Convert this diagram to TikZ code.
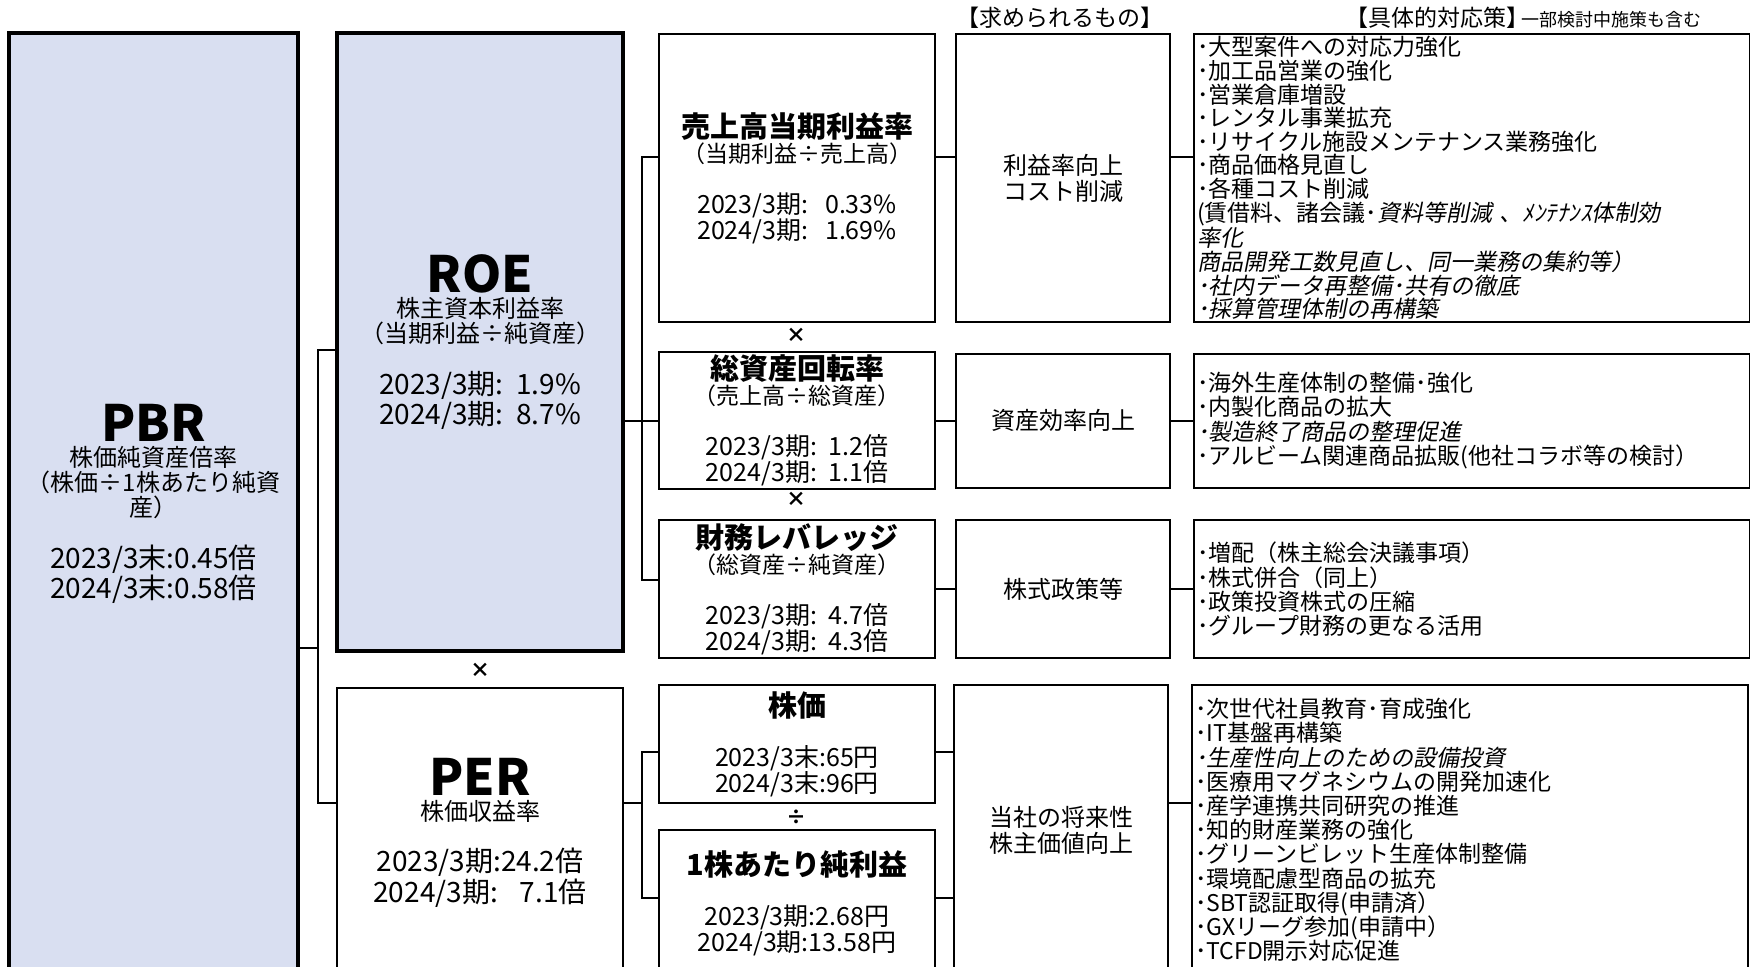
\documentclass[tikz,border=0pt]{standalone}
\usepackage{fontspec}
\setmainfont{Noto Sans CJK JP}
\newfontfamily\jpslant{Noto Sans CJK JP}[FakeSlant=0.2]
\usetikzlibrary{positioning}
\setlength{\parindent}{0pt}
\definecolor{kpifill}{RGB}{217,223,241}
\tikzset{cell/.style = {rectangle, draw=black, line width=1pt, inner sep=1.5pt, align=center, font=\fontsize{11.5}{13}\selectfont}}
\tikzset{kpi/.style = {cell, minimum width=143pt, font=\fontsize{12}{12.5}\selectfont}}
\tikzset{kpimain/.style = {kpi, line width=1.6pt, fill=kpifill}}
\tikzset{ratio/.style = {cell, minimum width=138pt}}
\tikzset{need/.style = {cell, minimum width=107pt, font=\fontsize{12}{13}\selectfont}}
\tikzset{action/.style = {cell, inner ysep=0pt, text width=275pt, align=left, font=\fontsize{11.5}{12.1}\selectfont}}
\tikzset{link/.style = {line width=1pt}}
\tikzset{op/.style = {inner sep=0pt, font=\bfseries\fontsize{10}{10}\selectfont}}
\tikzset{heading/.style = {inner sep=0pt, font=\fontsize{11.5}{12}\selectfont}}
\newcommand{\bigkpi}[1]{{\bfseries\fontsize{25}{25}\selectfont #1}}
\newcommand{\kpival}[1]{{\fontsize{14}{15}\selectfont #1}}
\newcommand{\ratiotitle}[1]{{\bfseries\fontsize{14.5}{15}\selectfont #1}}
\newcommand{\ratioval}[1]{{\fontsize{12.5}{13}\selectfont #1}}
\begin{document}
\begin{tikzpicture}[x=0.5pt, y=-0.5pt]
\path [use as bounding box, fill=white] (0,0) rectangle (1750,967);
\clip (0,0) rectangle (1750,967);

\node [kpimain, minimum width=144.5pt, minimum height=471pt] (pbr) at (153.5,504) {\bigkpi{PBR}\\
株価純資産倍率\\
（株価÷1株あたり純資\\
産）\\[12pt]
\kpival{2023/3末:0.45倍}\\
\kpival{2024/3末:0.58倍}};
\node [kpimain, minimum height=309pt] (roe) at (480,342) {\bigkpi{ROE}\\
株主資本利益率\\
（当期利益÷純資産）\\[12pt]
\kpival{2023/3期:~~1.9\%}\\
\kpival{2024/3期:~~8.7\%}};
\node [kpi, minimum height=145pt, below=17pt of roe] (per) {\bigkpi{PER}\\
株価収益率\\[12pt]
\kpival{2023/3期:24.2倍}\\
\kpival{2024/3期:\phantom{2}~7.1倍}};

\node [ratio, minimum height=144pt] (uri) at (797,178) {\ratiotitle{売上高当期利益率}\\[-0.5pt]
（当期利益÷売上高）\\[12.5pt]
\ratioval{2023/3期:~~~0.33\%}\\
\ratioval{2024/3期:~~~1.69\%}};
\node [ratio, minimum height=67pt, below=14pt of uri] (tat) {\ratiotitle{総資産回転率}\\[-0.5pt]
（売上高÷総資産）\\[12.5pt]
\ratioval{2023/3期:~~1.2倍}\\
\ratioval{2024/3期:~~1.1倍}};
\node [ratio, minimum height=69pt, below=14.5pt of tat] (zai) {\ratiotitle{財務レバレッジ}\\[-0.5pt]
（総資産÷純資産）\\[12.5pt]
\ratioval{2023/3期:~~4.7倍}\\
\ratioval{2024/3期:~~4.3倍}};
\node [ratio, minimum height=59pt] (kab) at (797,744) {\ratiotitle{株価}\\[12pt]
\ratioval{2023/3末:65円}\\
\ratioval{2024/3末:96円}};
\node [ratio, minimum height=73.5pt, below=12.5pt of kab] (eps) {\ratiotitle{1株あたり純利益}\\[12pt]
\ratioval{2023/3期:2.68円}\\
\ratioval{2024/3期:13.58円}};

\node [need, minimum height=144pt, right=9.5pt of uri] (need1) {利益率向上\\コスト削減};
\node [need, minimum height=67pt, right=9.5pt of tat] (need2) {資産効率向上};
\node [need, minimum height=69pt, right=9.5pt of zai] (need3) {株式政策等};
\node [need, minimum height=145pt] (need4) at (1061,830) {当社の将来性\\株主価値向上};

\node [action, minimum height=144pt, right=11pt of need1, font=\fontsize{11.5}{11.8}\selectfont] (act1) {･大型案件への対応力強化\\
･加工品営業の強化\\
･営業倉庫増設\\
･レンタル事業拡充\\
･リサイクル施設メンテナンス業務強化\\
･商品価格見直し\\
･各種コスト削減\\
(賃借料、諸会議･{\jpslant 資料等削減 、ﾒﾝﾃﾅﾝｽ体制効}\\
{\jpslant 率化}\\
{\jpslant 商品開発工数見直し、同一業務の集約等）}\\
{\jpslant ･社内データ再整備･共有の徹底}\\
{\jpslant ･採算管理体制の再構築}};
\node [action, minimum height=67pt, right=11pt of need2] (act2) {･海外生産体制の整備･強化\\
･内製化商品の拡大\\
{\jpslant ･製造終了商品の整理促進}\\
･アルビーム関連商品拡販(他社コラボ等の検討）};
\node [action, minimum height=69pt, right=11pt of need3] (act3) {･増配（株主総会決議事項）\\
･株式併合（同上）\\
･政策投資株式の圧縮\\
･グループ財務の更なる活用};
\node [action, minimum height=145pt, right=11pt of need4] (act4) {･次世代社員教育･育成強化\\
･IT基盤再構築\\
{\jpslant ･生産性向上のための設備投資}\\
･医療用マグネシウムの開発加速化\\
･産学連携共同研究の推進\\
･知的財産業務の強化\\
･グリーンビレット生産体制整備\\
･環境配慮型商品の拡充\\
･SBT認証取得(申請済）\\
･GXリーグ参加(申請中）\\
･TCFD開示対応促進};

\node [op] (times1) at (796,335) {×};
\node [op] (times2) at (796,499) {×};
\node [op] (times3) at (480,670) {×};
\node [op] (divide) at (796,817) {÷};

\node [heading] (needhead) at (1060,18) {【求められるもの】};
\node [heading, anchor=west] (acthead) at (1345,18) {【具体的対応策】\hspace{-4pt}{\fontsize{9}{9}\selectfont 一部検討中施策も含む}};

\coordinate (pbrout) at (318,648);
\coordinate (roein) at (318,350);
\coordinate (perin) at (318,803);
\coordinate (brA) at (642,157);
\coordinate (brB) at (642,580);
\coordinate (brC) at (642,752);
\coordinate (brD) at (642,898);
\coordinate (perout) at (642,803);

\draw [link] (pbr.east |- pbrout) -- (pbrout);
\draw [link] (roe.west |- roein) -- (roein) -- (perin) -- (per.west |- perin);
\draw [link] (uri.west |- brA) -- (brA) -- (brB) -- (zai.west |- brB);
\draw [link] (roe.east |- tat.west) -- (tat.west);
\draw [link] (kab.west |- brC) -- (brC) -- (brD) -- (eps.west |- brD);
\draw [link] (per.east |- perout) -- (perout);
\draw [link] (uri.east |- brA) -- (need1.west |- brA);
\draw [link] (tat) -- (need2);
\draw [link] (zai) -- (need3);
\draw [link] (kab.east |- brC) -- (need4.west |- brC);
\draw [link] (eps.east |- brD) -- (need4.west |- brD);
\draw [link] (need1.east |- brA) -- (act1.west |- brA);
\draw [link] (need2) -- (act2);
\draw [link] (need3) -- (act3);
\draw [link] (need4.east |- perout) -- (act4.west |- perout);
\end{tikzpicture}
\end{document}
